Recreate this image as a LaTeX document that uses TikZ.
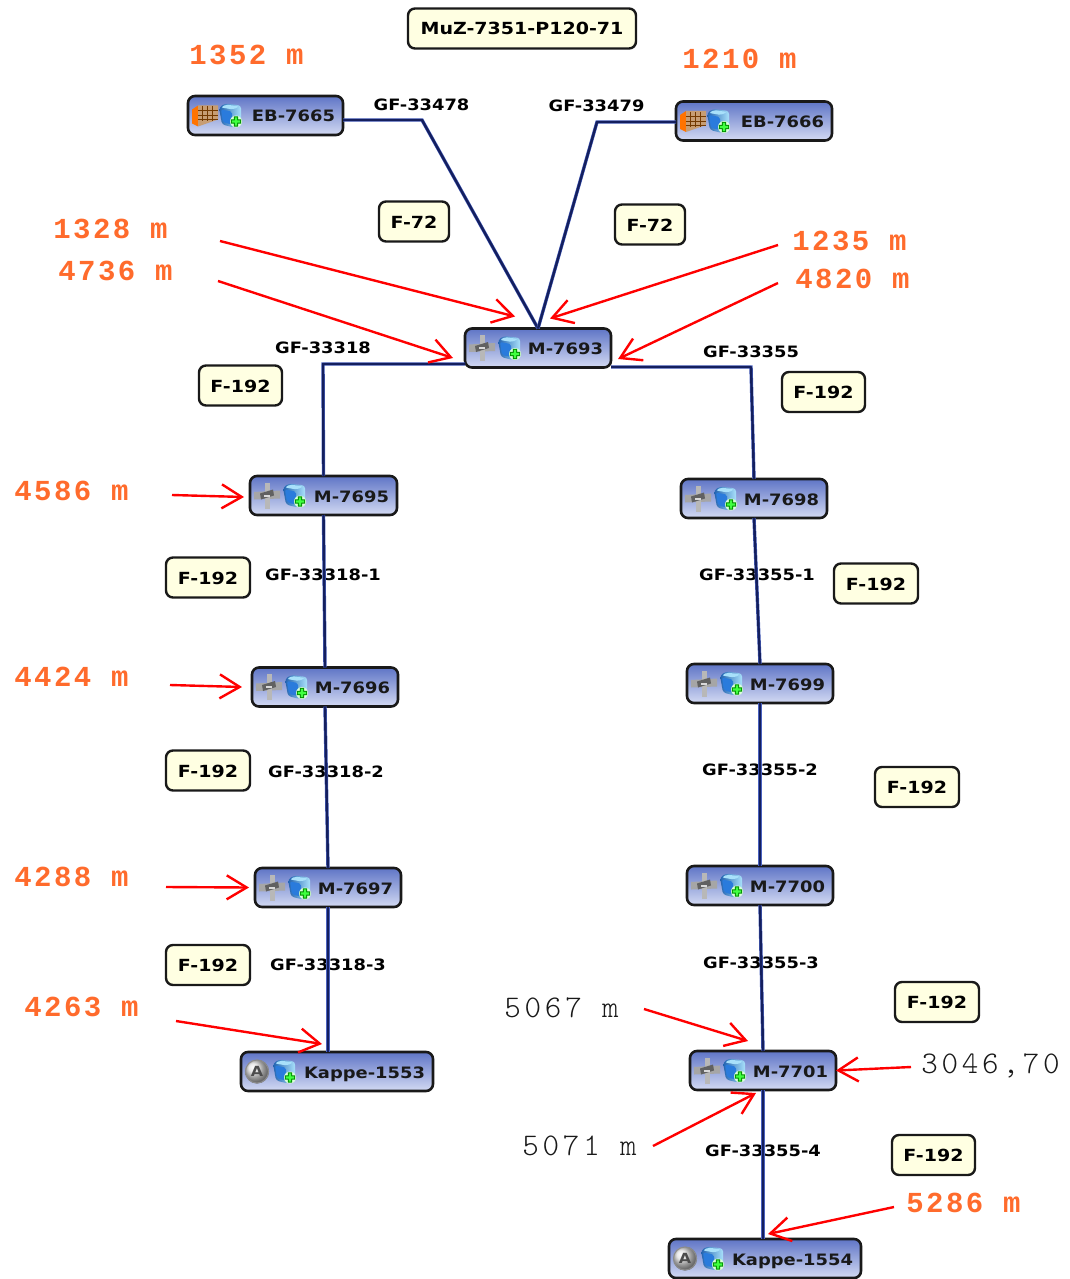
\documentclass[tikz,border=0pt]{standalone}
\usepackage{fontspec}
\usetikzlibrary{arrows.meta,calc}
\newfontfamily\labfont{DejaVu Sans Bold}[FakeStretch=1.14]
\newfontfamily\distfont{Liberation Mono Bold}[LetterSpace=8.5]
\newfontfamily\distlight{Latin Modern Mono Light}[LetterSpace=12]
\definecolor{lineblue}{HTML}{141F5E}
\definecolor{lineedge}{HTML}{4A62C0}
\definecolor{boxtop}{HTML}{5F75C6}
\definecolor{boxbot}{HTML}{D3DAF3}
\definecolor{cream}{HTML}{FFFFE2}
\definecolor{distorange}{HTML}{FF6B2C}
\definecolor{cubeblue}{HTML}{2A7BDC}
\definecolor{cubelight}{HTML}{A8E0FA}
\tikzset{
  x=1pt,y=-1pt,
  devbox/.style={draw=black!90,line width=2.6pt,rounded corners=7pt,top color=boxtop,bottom color=boxbot,
    minimum height=39pt,inner xsep=8pt,inner ysep=0pt,outer sep=0pt,align=right,text=black!90,
    text height=13pt,text depth=0pt,font=\labfont\fontsize{15.7}{17}\selectfont},
  tagbox/.style={draw=black!90,line width=2.4pt,rounded corners=7pt,fill=cream,minimum height=40pt,
    inner sep=0pt,outer sep=0pt,text height=13pt,text depth=0pt,font=\labfont\fontsize{16.7}{18}\selectfont},
  linelabel/.style={inner sep=0pt,font=\labfont\fontsize{15.65}{17}\selectfont},
  distlabel/.style={inner sep=0pt,text=distorange,font=\distfont\fontsize{29}{30}\selectfont},
  distblack/.style={inner sep=0pt,text=black!90,font=\distlight\fontsize{31.5}{32}\selectfont},
  conn/.style={draw=lineblue,line width=2.4pt,line join=round,
    preaction={draw=lineedge,line width=3.4pt}},
  redarrow/.style={draw=red,line width=2.4pt,-{Straight Barb[length=20pt,width=24pt,line width=2.4pt]}},
  pics/cube/.style={code={
    \shade[left color=cubeblue!80!black,right color=cubelight,rounded corners=3pt]
      (-11,-8) -- (-5,-12) -- (11,-10) -- (11,7) -- (4,12) -- (-8,9) -- cycle;
    \fill[cubelight,rounded corners=2pt] (-9,-8) -- (-4,-11) -- (9,-9) -- (3,-6) -- cycle;
    \fill[cubeblue,rounded corners=2pt] (-9,-6) -- (2,-4) -- (2,9) -- (-7,7) -- cycle;
    \fill[white!85!green] (6,6) circle (6);
    \fill[green!55!black] (3.8,0.8) rectangle (8.2,11.2) (0.8,3.8) rectangle (11.2,8.2);
    \fill[green!75!white] (4.8,1.8) rectangle (7.2,10.2) (1.8,4.8) rectangle (10.2,7.2);
  }},
  pics/cog/.style={code={
    \fill[black!35] (-13,-3.5) -- (13,-5) -- (13,3) -- (-13,4) -- cycle;
    \fill[black!28] (-2.5,-13) rectangle (2.5,13);
    \fill[black!62] (-7,-2) -- (6,-6) -- (7,0) -- (-6,4) -- cycle;
    \fill[black!15] (-3,-1) rectangle (3,1);
  }},
  pics/brick/.style={code={
    \fill[orange!90!red] (-13,-6) -- (-7,-10) -- (-7,11) -- (-13,8) -- cycle;
    \fill[orange!60!black!55!white] (-7,-10) -- (13,-10) -- (13,4) -- (-7,11) -- cycle;
    \foreach \xx in {-3,2,7}{\draw[orange!45!black,line width=.7pt] (\xx,-9) -- (\xx,6);}
    \foreach \yy in {-5,0,4}{\draw[orange!45!black,line width=.7pt] (-7,\yy) -- (13,\yy);}
  }},
  pics/acirc/.style={code={
    \shade[ball color=black!12] (0,0) circle (12);
    \draw[black!45,line width=1pt] (0,0) circle (11.5);
    \node[inner sep=0pt,text=black!70,font=\labfont\fontsize{14}{14}\selectfont] at (0,0) {A};
  }},
}
% #1 name, #2 cx, #3 cy, #4 width, #5 text, #6 first icon, #7 first icon offset, #8 cube offset
\newcommand{\devnode}[8]{%
  \node[devbox,minimum width=#4pt,text width=#4pt-16pt] (#1) at (#2,#3) {#5};
  \pic at ([xshift=#7pt]#1.west) {#6};
  \pic at ([xshift=#8pt]#1.west) {cube};
}
\begin{document}
\begin{tikzpicture}
\useasboundingbox (0,0) rectangle (1069,1279);

% line labels sit under the connectors
\node[linelabel] (g1) at (421.5,105) {GF-33478};
\node[linelabel] (g2) at (596.5,106) {GF-33479};
\node[linelabel] (g3) at (323,348) {GF-33318};
\node[linelabel] (g4) at (751,352) {GF-33355};
\node[linelabel] (g5) at (323,575) {GF-33318-1};
\node[linelabel] (g6) at (757,575) {GF-33355-1};
\node[linelabel] (g7) at (326,772) {GF-33318-2};
\node[linelabel] (g8) at (760,770) {GF-33355-2};
\node[linelabel] (g9) at (328,965) {GF-33318-3};
\node[linelabel] (g10) at (761,963) {GF-33355-3};
\node[linelabel] (g11) at (763,1151) {GF-33355-4};

% devices
\devnode{eb1}{265.5}{115.5}{155}{EB-7665}{brick}{17}{42}
\devnode{eb2}{754}{121}{156}{EB-7666}{brick}{17}{42}
\devnode{m93}{538}{348}{146}{M-7693}{cog}{17}{44}
\devnode{m95}{323.5}{495.5}{147}{M-7695}{cog}{17}{44}
\devnode{m96}{325}{687}{146}{M-7696}{cog}{17}{44}
\devnode{m97}{328}{887.5}{146}{M-7697}{cog}{17}{44}
\devnode{m98}{754}{498.5}{146}{M-7698}{cog}{17}{44}
\devnode{m99}{760}{683.5}{146}{M-7699}{cog}{17}{44}
\devnode{m00}{760}{885.5}{146}{M-7700}{cog}{17}{44}
\devnode{m01}{763}{1070.5}{146}{M-7701}{cog}{17}{44}
\devnode{k53}{337}{1071.5}{192}{Kappe-1553}{acirc}{16}{43}
\devnode{k54}{765}{1258.5}{192}{Kappe-1554}{acirc}{16}{43}

% bends
\coordinate (b1) at (422,120);
\coordinate (b2) at (597,122);
\coordinate (b3) at (323,364);
\coordinate (b4) at (751,367);

% connectors
\draw[conn] ([yshift=-4.5pt]eb1.east) -- (b1) -- (m93.north);
\draw[conn] ([yshift=-1pt]eb2.west) -- (b2) -- (m93.north);
\draw[conn] ([yshift=-16pt]m93.west) -- (b3) -- (m95.north);
\draw[conn] ([yshift=-19pt]m93.east) -- (b4) -- (m98.north);
\draw[conn] (m95.south) -- (m96.north);
\draw[conn] (m96.south) -- (m97.north);
\draw[conn] (m97.south) -- ([xshift=-9pt]k53.north);
\draw[conn] (m98.south) -- (m99.north);
\draw[conn] (m99.south) -- (m00.north);
\draw[conn] (m00.south) -- (m01.north);
\draw[conn] (m01.south) -- ([xshift=-2pt]k54.north);

% title and tags
\node[tagbox,minimum width=228pt] (title) at (522,28.5) {MuZ-7351-P120-71};
\node[tagbox,minimum width=70pt] (t1) at (414,221.5) {F-72};
\node[tagbox,minimum width=70pt] (t2) at (650,224.5) {F-72};
\node[tagbox,minimum width=83pt] (t3) at (240.5,385.5) {F-192};
\node[tagbox,minimum width=83pt] (t4) at (823.5,392) {F-192};
\node[tagbox,minimum width=84pt] (t5) at (208,577.5) {F-192};
\node[tagbox,minimum width=84pt] (t6) at (876,583.5) {F-192};
\node[tagbox,minimum width=84pt] (t7) at (208,770.5) {F-192};
\node[tagbox,minimum width=84pt] (t8) at (917,787) {F-192};
\node[tagbox,minimum width=84pt] (t9) at (208,965) {F-192};
\node[tagbox,minimum width=84pt] (t10) at (937,1002) {F-192};
\node[tagbox,minimum width=83pt] (t11) at (933.5,1155) {F-192};

% distances
\node[distlabel] (d1) at (246.5,55) {1352 m};
\node[distlabel] (d2) at (739.5,59) {1210 m};
\node[distlabel] (d3) at (110.5,229) {1328 m};
\node[distlabel] (d4) at (115.5,271) {4736 m};
\node[distlabel] (d5) at (849.5,241) {1235 m};
\node[distlabel] (d6) at (852.5,279) {4820 m};
\node[distlabel] (d7) at (71.5,491) {4586 m};
\node[distlabel] (d8) at (71.5,677) {4424 m};
\node[distlabel] (d9) at (71.5,877) {4288 m};
\node[distlabel] (d10) at (81.5,1007) {4263 m};
\node[distblack] (d11) at (561.5,1008) {5067 m};
\node[distblack] (d12) at (990.5,1066) {3046,70};
\node[distblack] (d13) at (579.5,1146) {5071 m};
\node[distlabel] (d14) at (963.5,1203) {5286 m};

% arrow tails
\coordinate (a3) at (220,241);
\coordinate (a4) at (218,281);
\coordinate (a5) at (778,245);
\coordinate (a6) at (778,283);
\coordinate (a7) at (172,495);
\coordinate (a8) at (170,685);
\coordinate (a9) at (166,887);
\coordinate (a10) at (176,1021);
\coordinate (a11) at (644,1009);
\coordinate (a12) at (911,1067);
\coordinate (a13) at (653,1146);
\coordinate (a14) at (894,1207);

% arrows
\draw[redarrow] (a3) -- ([xshift=-23pt,yshift=12pt]m93.north);
\draw[redarrow] (a4) -- ([xshift=-12pt,yshift=-10pt]m93.west);
\draw[redarrow] (a5) -- ([xshift=12pt,yshift=10pt]m93.north);
\draw[redarrow] (a6) -- ([xshift=7pt,yshift=-11pt]m93.east);
\draw[redarrow] (a7) -- ([xshift=-6pt,yshift=-1.5pt]m95.west);
\draw[redarrow] (a8) -- ([xshift=-10pt]m96.west);
\draw[redarrow] (a9) -- ([xshift=-6pt]m97.west);
\draw[redarrow] (a10) -- ([xshift=-15pt,yshift=8pt]k53.north);
\draw[redarrow] (a11) -- ([xshift=-15pt,yshift=10pt]m01.north);
\draw[redarrow] (a12) -- (m01.east);
\draw[redarrow] (a13) -- ([xshift=-7pt,yshift=-3pt]m01.south);
\draw[redarrow] (a14) -- ([xshift=3pt,yshift=5pt]k54.north);
\end{tikzpicture}
\end{document}
